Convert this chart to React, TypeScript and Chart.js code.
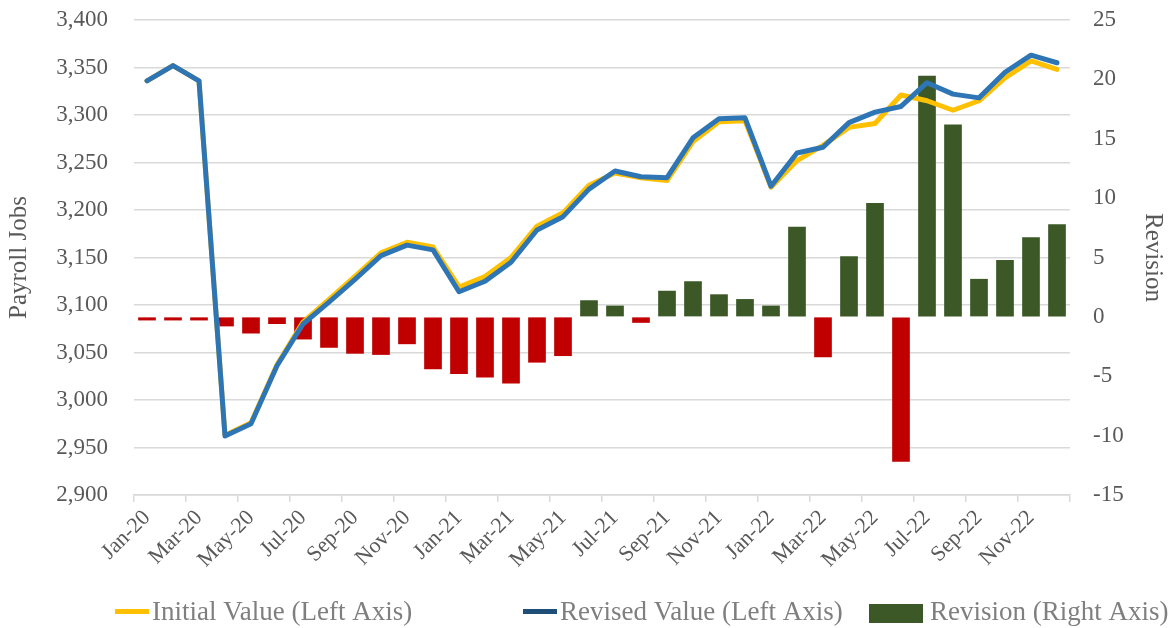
import React, { useEffect, useRef } from 'react';
import { Chart, registerables } from 'chart.js';

Chart.register(...registerables);

const months = [
  'Jan-20', 'Feb-20', 'Mar-20', 'Apr-20', 'May-20', 'Jun-20', 'Jul-20', 'Aug-20', 'Sep-20', 'Oct-20', 'Nov-20', 'Dec-20',
  'Jan-21', 'Feb-21', 'Mar-21', 'Apr-21', 'May-21', 'Jun-21', 'Jul-21', 'Aug-21', 'Sep-21', 'Oct-21', 'Nov-21', 'Dec-21',
  'Jan-22', 'Feb-22', 'Mar-22', 'Apr-22', 'May-22', 'Jun-22', 'Jul-22', 'Aug-22', 'Sep-22', 'Oct-22', 'Nov-22', 'Dec-22',
];

const initialValues = [
  3336, 3352, 3336, 2963, 2976, 3037, 3082, 3106, 3130, 3155, 3166, 3161,
  3119, 3130, 3150, 3183, 3197, 3226, 3239, 3234, 3231, 3272, 3293, 3294,
  3224, 3252, 3268, 3287, 3291, 3321, 3315, 3305, 3315, 3339, 3357, 3348,
];

const revisedValues = [
  3336, 3352, 3336, 2962, 2975, 3036, 3080, 3103, 3127, 3152, 3163, 3158,
  3114, 3125, 3145, 3179, 3193, 3222, 3241, 3235, 3234, 3276, 3296, 3297,
  3225, 3260, 3266, 3292, 3303, 3309, 3334, 3322, 3318, 3345, 3363, 3355,
];

const revisions = [
  -0.3, -0.3, -0.3, -0.8, -1.4, -0.6, -1.9, -2.6, -3.1, -3.2, -2.3, -4.4,
  -4.8, -5.1, -5.6, -3.85, -3.3, 1.4, 0.95, -0.5, 2.2, 3.0, 1.9, 1.5,
  0.95, 7.6, -3.4, 5.1, 9.6, -12.2, 20.3, 16.2, 3.2, 4.8, 6.7, 7.8,
];

const leftAxis = { min: 2900, max: 3400, step: 50 };
const rightAxis = { min: -15, max: 25, step: 5 };

const seriesLabels = ['Initial Value (Left Axis)', 'Revised Value (Left Axis)', 'Revision (Right Axis)'];
const axisTitles = ['Payroll Jobs', 'Revision'];

const FONT = "'Liberation Serif', 'Times New Roman', serif";
const YELLOW = '#FFC000';
const BLUE = '#2E75B6';
const BLUE_LEGEND = '#1F4E79';
const GREEN = '#3B5826';
const RED = '#C00000';
const GRID = '#D9D9D9';
const TEXT = '#595959';
const LEGEND_TEXT = '#7F7F7F';

const legendPlugin = {
  id: 'excelLegend',
  afterDraw(chart: any) {
    const ctx = chart.ctx as CanvasRenderingContext2D;
    const items = [
      { kind: 'line', color: YELLOW, x: 115, w: 34, text: seriesLabels[0] },
      { kind: 'line', color: BLUE_LEGEND, x: 523, w: 34, text: seriesLabels[1] },
      { kind: 'box', color: GREEN, x: 869, w: 54, text: seriesLabels[2] },
    ];
    const baseline = 620;
    ctx.save();
    ctx.font = `27px ${FONT}`;
    ctx.textBaseline = 'alphabetic';
    ctx.textAlign = 'left';
    items.forEach((it) => {
      ctx.fillStyle = it.color;
      if (it.kind === 'line') {
        ctx.fillRect(it.x, 609, it.w, 5);
      } else {
        ctx.fillRect(it.x, 604, it.w, 19);
      }
      ctx.fillStyle = LEGEND_TEXT;
      ctx.fillText(it.text, it.x + it.w + (it.kind === 'line' ? 3 : 7), baseline);
    });
    ctx.restore();
  },
};

export default function App() {
  const canvasRef = useRef<HTMLCanvasElement | null>(null);

  useEffect(() => {
    document.body.style.margin = '0';
    const canvas = canvasRef.current;
    if (!canvas) return;

    const chart = new Chart(canvas, {
      type: 'bar',
      data: {
        labels: months,
        datasets: [
          {
            type: 'line',
            label: seriesLabels[1],
            data: revisedValues,
            yAxisID: 'y',
            borderColor: BLUE,
            backgroundColor: BLUE,
            borderWidth: 5,
            pointRadius: 0,
            tension: 0,
            borderJoinStyle: 'round',
            borderCapStyle: 'round',
            order: 1,
          } as any,
          {
            type: 'line',
            label: seriesLabels[0],
            data: initialValues,
            yAxisID: 'y',
            borderColor: YELLOW,
            backgroundColor: YELLOW,
            borderWidth: 5,
            pointRadius: 0,
            tension: 0,
            borderJoinStyle: 'round',
            borderCapStyle: 'round',
            order: 2,
          } as any,
          {
            type: 'bar',
            label: seriesLabels[2],
            data: revisions,
            yAxisID: 'y1',
            backgroundColor: revisions.map((v) => (v < 0 ? RED : GREEN)),
            borderWidth: 0,
            categoryPercentage: 1,
            barPercentage: 0.68,
            order: 3,
          } as any,
        ],
      },
      options: {
        responsive: false,
        animation: false,
        devicePixelRatio: 1,
        layout: { padding: { top: 20, left: 0, right: 0, bottom: 0 } },
        plugins: {
          legend: { display: false },
          tooltip: { enabled: false },
        },
        scales: {
          x: {
            type: 'category',
            offset: true,
            grid: {
              offset: true,
              drawOnChartArea: false,
              drawTicks: true,
              tickLength: 7,
              lineWidth: 1.5,
              color: (ctx: any) =>
                ctx.index === undefined || ctx.type !== 'tick' || ctx.index % 2 === 0 ? GRID : 'rgba(0,0,0,0)',
            },
            border: { display: true, color: GRID, width: 1.5 },
            ticks: {
              autoSkip: false,
              maxRotation: 45,
              minRotation: 45,
              padding: 3,
              color: TEXT,
              font: { family: FONT, size: 22 },
              callback: (_v: any, i: number) => (i % 2 === 0 ? months[i] : ''),
            },
            afterFit: (scale: any) => {
              scale.height = 133;
            },
          },
          y: {
            type: 'linear',
            position: 'left',
            min: leftAxis.min,
            max: leftAxis.max,
            ticks: {
              stepSize: leftAxis.step,
              padding: 26,
              color: TEXT,
              font: { family: FONT, size: 23 },
              callback: (v: any) => Number(v).toLocaleString('en-US'),
            },
            grid: { color: GRID, lineWidth: 1.5, drawTicks: false },
            border: { display: false },
            title: {
              display: true,
              text: axisTitles[0],
              color: TEXT,
              font: { family: FONT, size: 25 },
              padding: { top: 4, bottom: 4 },
            },
            afterFit: (scale: any) => {
              scale.width = 134;
              scale.paddingTop = 0;
              scale.paddingBottom = 0;
            },
          },
          y1: {
            type: 'linear',
            position: 'right',
            min: rightAxis.min,
            max: rightAxis.max,
            ticks: {
              stepSize: rightAxis.step,
              padding: 23,
              color: TEXT,
              font: { family: FONT, size: 23 },
            },
            grid: { drawOnChartArea: false, drawTicks: false },
            border: { display: false },
            title: {
              display: true,
              text: axisTitles[1],
              color: TEXT,
              font: { family: FONT, size: 25 },
              padding: { top: 4, bottom: 4 },
            },
            afterFit: (scale: any) => {
              scale.width = 102;
              scale.paddingTop = 0;
              scale.paddingBottom = 0;
            },
          },
        },
      } as any,
      plugins: [legendPlugin],
    });

    return () => {
      chart.destroy();
    };
  }, []);

  return (
    <div style={{ width: 1172, height: 628, background: '#fff' }}>
      <canvas ref={canvasRef} width={1172} height={628} style={{ display: 'block' }} />
    </div>
  );
}
